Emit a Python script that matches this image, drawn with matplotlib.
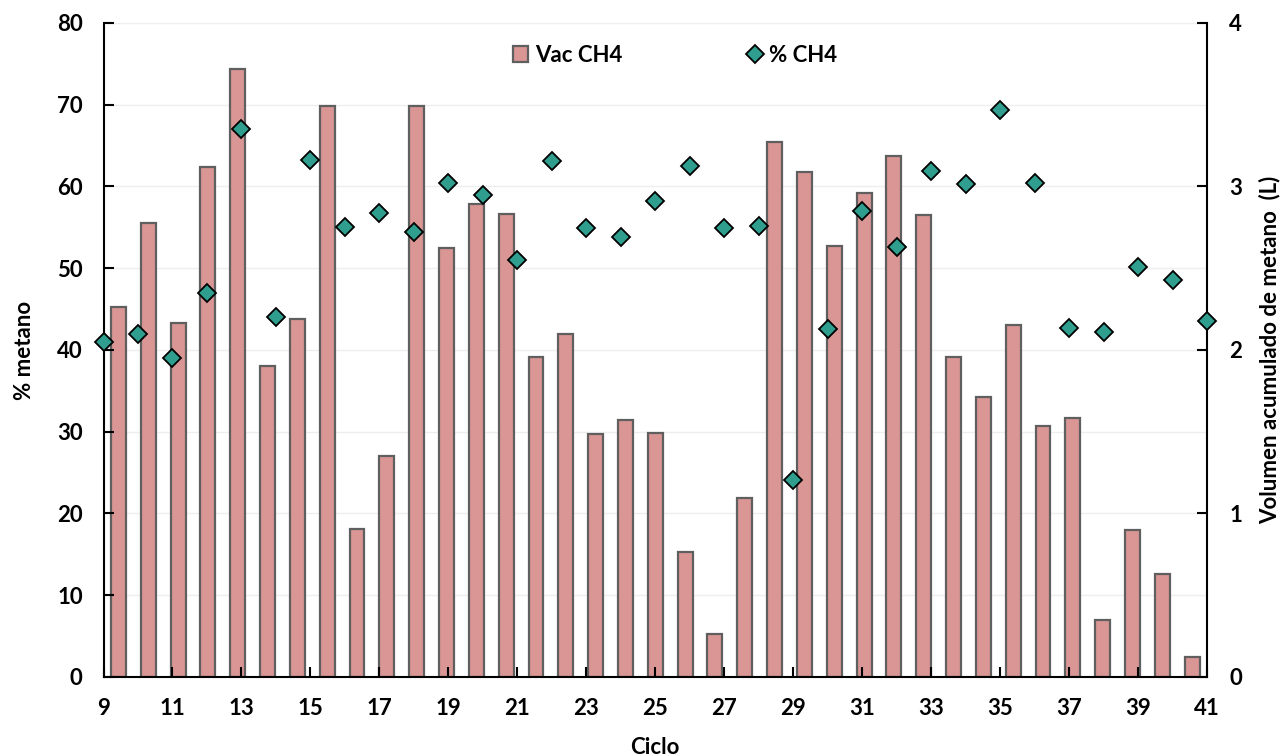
import numpy as np
import matplotlib.pyplot as plt
from matplotlib.patches import Patch
from matplotlib.lines import Line2D

plt.rcParams['font.family'] = ['Lato', 'DejaVu Sans']
plt.rcParams['font.weight'] = 'bold'

# % metano por ciclo (eje izquierdo)
ciclos = np.arange(9, 42)
pct_ch4 = [41.0, 42.0, 39.0, 47.0, 67.0, 44.0, 63.3, 55.0, 56.8, 54.4,
           60.4, 58.9, 51.0, 63.1, 54.9, 53.8, 58.2, 62.5, 54.9, 55.2,
           24.1, 42.6, 57.0, 52.6, 61.9, 60.3, 69.4, 60.4, 42.7, 42.2,
           50.1, 48.6, 43.5]

# volumen acumulado de metano, L (eje derecho)
vac_ch4 = [2.26, 2.775, 2.165, 3.12, 3.72, 1.90, 2.19, 3.49, 0.905, 1.35,
           3.49, 2.625, 2.895, 2.83, 1.955, 2.10, 1.485, 1.57, 1.49, 0.765,
           0.263, 1.095, 3.27, 3.09, 2.635, 2.96, 3.185, 2.825, 1.955, 1.71,
           2.15, 1.535, 1.585, 0.35, 0.90, 0.628, 0.12]

bar_color = '#d99694'
bar_edge = '#5f5f5f'
dot_color = '#2f9e8e'

fig = plt.figure(figsize=(12.81, 7.56), dpi=100)
rect = [0.0808, 0.1045, 0.8615, 0.8651]

# barras en su propio eje de categorias
axb = fig.add_axes(rect)
axb.bar(np.arange(len(vac_ch4)), vac_ch4, width=0.5, color=bar_color,
        edgecolor=bar_edge, linewidth=1.6, zorder=2)
axb.set_xlim(-0.5, len(vac_ch4) - 0.5)
axb.set_ylim(0, 4)
axb.set_xticks([])
axb.yaxis.tick_right()
axb.yaxis.set_label_position('right')
axb.set_yticks([0, 1, 2, 3, 4])
axb.set_yticks(np.arange(0.5, 4.0, 1.0), minor=True)
axb.grid(axis='y', which='both', color='#eeeeee', linewidth=1.0, zorder=0)
axb.tick_params(axis='y', which='major', direction='in', length=7, width=1.5,
                labelsize=16, pad=16)
axb.tick_params(axis='y', which='minor', length=0)
axb.set_ylabel('Volumen acumulado de metano  (L)', fontsize=16,
               fontweight='bold', labelpad=12)
for s in ['top', 'left', 'bottom']:
    axb.spines[s].set_visible(False)
axb.spines['right'].set_linewidth(1.5)

# % metano encima
ax = fig.add_axes(rect)
ax.patch.set_visible(False)
ax.plot(ciclos, pct_ch4, linestyle='none', marker='D', markersize=9,
        markerfacecolor=dot_color, markeredgecolor='black',
        markeredgewidth=1.3, clip_on=False, zorder=3)
ax.set_xlim(9, 41)
ax.set_ylim(0, 80)
ax.set_xticks(np.arange(9, 42, 2))
ax.set_yticks(np.arange(0, 81, 10))
ax.tick_params(direction='in', length=7, width=1.5, labelsize=16, pad=15)
ax.set_xlabel('Ciclo', fontsize=16, fontweight='bold', labelpad=13)
ax.set_ylabel('% metano', fontsize=16, fontweight='bold', labelpad=16)
for s in ['top', 'right']:
    ax.spines[s].set_visible(False)
for s in ['left', 'bottom']:
    ax.spines[s].set_linewidth(1.5)

handles = [Patch(facecolor=bar_color, edgecolor=bar_edge, linewidth=1.6),
           Line2D([], [], linestyle='none', marker='D', markersize=9,
                  markerfacecolor=dot_color, markeredgecolor='black',
                  markeredgewidth=1.3)]
fig.legend(handles, ['Vac CH4', '% CH4'], loc='center',
           bbox_to_anchor=(0.527, 0.927), ncol=2, frameon=False,
           fontsize=16, handlelength=0.7, handleheight=0.7,
           handletextpad=0.3, columnspacing=5.6)

fig.savefig('out.png', dpi=100)
